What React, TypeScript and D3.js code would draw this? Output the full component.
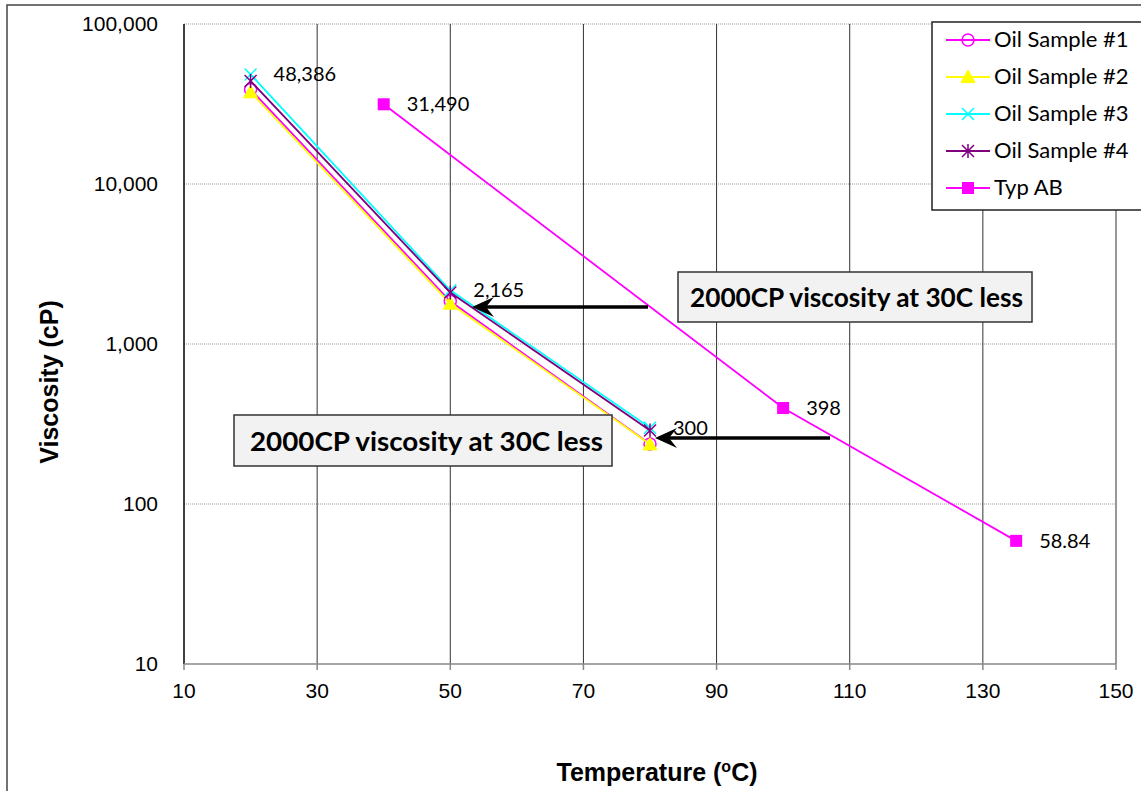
import React from "react";
import * as d3 from "d3";

// Temperatures (°C) and viscosities (cP) for each sample
const sampleTemps = [20, 50, 80];
const oil1 = [39000, 1850, 237];
const oil2 = [37500, 1790, 236];
const oil3 = [48386, 2165, 300];
const oil4 = [44000, 2100, 288];
const typTemps = [40, 100, 135];
const typAB = [31490, 398, 58.84];

const xTicks = [10, 30, 50, 70, 90, 110, 130, 150];
const yTicks = [10, 100, 1000, 10000, 100000];

type Series = { name: string; color: string; marker: string; xs: number[]; ys: number[] };
const series: Series[] = [
  { name: "Oil Sample #1", color: "#ff00ff", marker: "circle", xs: sampleTemps, ys: oil1 },
  { name: "Oil Sample #2", color: "#ffff00", marker: "triangle", xs: sampleTemps, ys: oil2 },
  { name: "Oil Sample #3", color: "#00ffff", marker: "x", xs: sampleTemps, ys: oil3 },
  { name: "Oil Sample #4", color: "#800080", marker: "star", xs: sampleTemps, ys: oil4 },
  { name: "Typ AB", color: "#ff00ff", marker: "square", xs: typTemps, ys: typAB },
];

// Data labels: [series index, point index, text]
const dataLabels: [number, number, string][] = [
  [2, 0, "48,386"],
  [2, 1, "2,165"],
  [2, 2, "300"],
  [4, 0, "31,490"],
  [4, 1, "398"],
  [4, 2, "58.84"],
];

const fmt = d3.format(",");

function Marker({ type, x, y, color }: { type: string; x: number; y: number; color: string }) {
  if (type === "circle")
    return <circle cx={x} cy={y} r={6} fill="none" stroke={color} strokeWidth={1.5} />;
  if (type === "triangle") {
    const s = 7;
    return (
      <path
        d={`M${x},${y - s} L${x + s},${y + s * 0.8} L${x - s},${y + s * 0.8} Z`}
        fill={color}
        stroke={color}
      />
    );
  }
  if (type === "x") {
    const s = 6;
    return (
      <path
        d={`M${x - s},${y - s} L${x + s},${y + s} M${x - s},${y + s} L${x + s},${y - s}`}
        stroke={color}
        strokeWidth={1.5}
      />
    );
  }
  if (type === "star") {
    const s = 6;
    return (
      <path
        d={`M${x - s},${y - s} L${x + s},${y + s} M${x - s},${y + s} L${x + s},${y - s} M${x},${y - s - 1} L${x},${y + s + 1}`}
        stroke={color}
        strokeWidth={1.5}
      />
    );
  }
  return <rect x={x - 6} y={y - 6} width={12} height={12} fill={color} />;
}

function Arrow({ x1, x2, y }: { x1: number; x2: number; y: number }) {
  // Arrow drawn from x1 towards x2 (tip at x2)
  return (
    <g>
      <line x1={x1} y1={y} x2={x2 + 10} y2={y} stroke="#000" strokeWidth={3.5} />
      <path
        d={`M${x2},${y} L${x2 + 22},${y - 10} L${x2 + 14},${y} L${x2 + 22},${y + 10} Z`}
        fill="#000"
      />
    </g>
  );
}

export default function App() {
  const W = 1141;
  const H = 791;
  const x = d3.scaleLinear().domain([10, 150]).range([184, 1116]);
  const y = d3.scaleLog().domain([10, 100000]).range([664, 24]);
  const line = d3
    .line<[number, number]>()
    .x((d) => x(d[0]))
    .y((d) => y(d[1]));

  const tickFont = "'Liberation Sans', Arial, sans-serif";
  const bodyFont = "Lato, 'Open Sans', sans-serif";

  return (
    <svg
      width={W}
      height={H}
      style={{ position: "absolute", left: 0, top: 0, background: "#fff" }}
    >
      <rect x={0} y={0} width={W} height={H} fill="#fff" />
      {/* chart frame */}
      <rect x={7} y={5} width={W + 10} height={H + 10} fill="none" stroke="#444" strokeWidth={1.5} />

      {/* horizontal gridlines */}
      {yTicks.slice(1).map((t) => (
        <line
          key={"hy" + t}
          x1={184}
          x2={1116}
          y1={y(t)}
          y2={y(t)}
          stroke="#9a9a9a"
          strokeWidth={1}
          strokeDasharray="1,1"
        />
      ))}
      {/* vertical gridlines */}
      {xTicks.slice(1).map((t) => (
        <line key={"vx" + t} x1={x(t)} x2={x(t)} y1={24} y2={664} stroke="#333" strokeWidth={1} />
      ))}
      {/* axes */}
      <line x1={184} x2={184} y1={24} y2={664} stroke="#000" strokeWidth={1.5} />
      <line x1={184} x2={1116} y1={664} y2={664} stroke="#888" strokeWidth={1.5} />
      {xTicks.map((t) => (
        <line key={"xt" + t} x1={x(t)} x2={x(t)} y1={664} y2={670} stroke="#888" strokeWidth={1.5} />
      ))}
      {xTicks.map((t) => (
        <text
          key={"xl" + t}
          x={x(t)}
          y={698}
          textAnchor="middle"
          fontFamily={tickFont}
          fontSize={21}
          fill="#000"
        >
          {t}
        </text>
      ))}
      {yTicks.map((t) => (
        <text
          key={"yl" + t}
          x={158}
          y={y(t) + 7}
          textAnchor="end"
          fontFamily={tickFont}
          fontSize={21}
          fill="#000"
        >
          {fmt(t)}
        </text>
      ))}

      {/* axis titles */}
      <text
        transform={`translate(58,${382}) rotate(-90)`}
        textAnchor="middle"
        fontFamily={tickFont}
        fontWeight="bold"
        fontSize={25}
      >
        Viscosity (cP)
      </text>
      <text x={657} y={781} textAnchor="middle" fontFamily={tickFont} fontWeight="bold" fontSize={25}>
        Temperature (
        <tspan fontSize={16} dy={-9}>
          o
        </tspan>
        <tspan dy={9}>C)</tspan>
      </text>

      {/* series */}
      {series.map((s) => {
        const pts = s.xs.map((v, i) => [v, s.ys[i]] as [number, number]);
        return (
          <g key={s.name}>
            <path d={line(pts) || ""} fill="none" stroke={s.color} strokeWidth={1.8} />
            {pts.map((p, i) => (
              <Marker key={i} type={s.marker} x={x(p[0])} y={y(p[1])} color={s.color} />
            ))}
          </g>
        );
      })}

      {/* data labels */}
      {dataLabels.map(([si, pi, txt]) => {
        const s = series[si];
        return (
          <text
            key={txt}
            x={x(s.xs[pi]) + 23}
            y={y(s.ys[pi]) + 7}
            fontFamily={bodyFont}
            fontSize={20}
            fill="#000"
          >
            {txt}
          </text>
        );
      })}

      {/* annotations */}
      <rect x={678} y={272} width={354} height={50} fill="#f2f2f2" stroke="#333" strokeWidth={1.5} />
      <text
        x={690}
        y={307}
        textLength={333}
        lengthAdjust="spacingAndGlyphs"
        fontFamily={bodyFont}
        fontWeight="bold"
        fontSize={26}
      >
        2000CP viscosity at 30C less
      </text>
      <rect x={234} y={415} width={378} height={51} fill="#f2f2f2" stroke="#333" strokeWidth={1.5} />
      <text
        x={250}
        y={451}
        textLength={353}
        lengthAdjust="spacingAndGlyphs"
        fontFamily={bodyFont}
        fontWeight="bold"
        fontSize={26}
      >
        2000CP viscosity at 30C less
      </text>
      <Arrow x1={648} x2={472} y={307} />
      <Arrow x1={830} x2={655} y={438} />

      {/* legend */}
      <rect x={932} y={22} width={220} height={188} fill="#fff" stroke="#222" strokeWidth={1.5} />
      {series.map((s, i) => {
        const ly = 40 + i * 37;
        return (
          <g key={"lg" + s.name}>
            <line x1={946} x2={990} y1={ly} y2={ly} stroke={s.color} strokeWidth={1.8} />
            <Marker type={s.marker} x={968} y={ly} color={s.color} />
            <text x={994} y={ly + 7} fontFamily={bodyFont} fontSize={22} fill="#000">
              {s.name}
            </text>
          </g>
        );
      })}
    </svg>
  );
}
